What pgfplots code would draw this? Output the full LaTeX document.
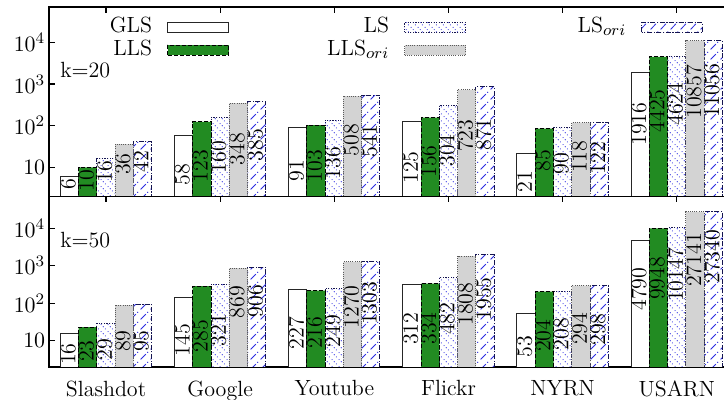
\documentclass[border=0pt]{standalone}
\usepackage{pgfplots}
\pgfplotsset{compat=1.18}
\usepackage{pgfplotstable}
\usetikzlibrary{patterns,patterns.meta}

\definecolor{llsgreen}{RGB}{34,139,34}
\definecolor{origray}{RGB}{211,211,211}
\definecolor{hatchblue}{RGB}{45,45,225}
\definecolor{edgenavy}{RGB}{20,20,80}

% dotted back-diagonal hatch
\pgfdeclarepattern{
  name=dotback,
  type=uncolored,
  bottom left={\pgfpoint{0pt}{0pt}},
  top right={\pgfpoint{3.6pt}{3.6pt}},
  tile size={\pgfpoint{3.6pt}{3.6pt}},
  code={
    \pgfpathcircle{\pgfpoint{0.6pt}{3.0pt}}{0.3pt}
    \pgfpathcircle{\pgfpoint{1.8pt}{1.8pt}}{0.3pt}
    \pgfpathcircle{\pgfpoint{3.0pt}{0.6pt}}{0.3pt}
    \pgfusepath{fill}
  }
}
% dash-dot forward-diagonal hatch
\pgfdeclarepattern{
  name=dashfwd,
  type=uncolored,
  bottom left={\pgfpoint{0pt}{0pt}},
  top right={\pgfpoint{5pt}{5pt}},
  tile size={\pgfpoint{5pt}{5pt}},
  code={
    \pgfsetlinewidth{0.45pt}
    \pgfpathmoveto{\pgfpoint{0.3pt}{0.3pt}}
    \pgfpathlineto{\pgfpoint{3.2pt}{3.2pt}}
    \pgfpathmoveto{\pgfpoint{4.0pt}{4.0pt}}
    \pgfpathlineto{\pgfpoint{4.4pt}{4.4pt}}
    \pgfusepath{stroke}
  }
}

% x: dataset index, y: value, dy: label centre below the bar top (pt)
% ---- k = 20 ----
\pgfplotstableread{
x y dy
0 6 -4
1 58 -19.5
2 91 -21.5
3 125 -23
4 21 -14
5 1916 -26
}\glsA
\pgfplotstableread{
x y dy
0 10 -6.5
1 123 -22
2 103 -20.5
3 156 -22
4 85 -16
5 4425 -27
}\llsA
\pgfplotstableread{
x y dy
0 16 -6.5
1 160 -20
2 136 -21.5
3 304 -22.5
4 90 -18
5 4624 -24
}\lsA
\pgfplotstableread{
x y dy
0 36 -10
1 348 -23
2 508 -22
3 723 -23
4 118 -17
5 10857 -25.5
}\llsoriA
\pgfplotstableread{
x y dy
0 42 -10
1 385 -22
2 541 -23
3 871 -24
4 122 -18
5 11056 -25
}\lsoriA
% ---- k = 50 ----
\pgfplotstableread{
x y dy
0 16 -10.5
1 145 -21.5
2 227 -21.5
3 312 -22
4 53 -16.5
5 4790 -24.5
}\glsB
\pgfplotstableread{
x y dy
0 23 -12
1 285 -25
2 216 -21
3 334 -22.5
4 204 -22
5 9948 -25
}\llsB
\pgfplotstableread{
x y dy
0 29 -13
1 321 -23
2 249 -21.5
3 482 -20.5
4 208 -21.5
5 10147 -23.5
}\lsB
\pgfplotstableread{
x y dy
0 89 -18
1 869 -17
2 1270 -22.5
3 1808 -24
4 294 -21.5
5 27141 -24
}\llsoriB
\pgfplotstableread{
x y dy
0 95 -18.5
1 906 -17
2 1303 -21
3 1955 -22
4 298 -22
5 27340 -22.5
}\lsoriB

\newcommand{\barrect}[1]{\draw[#1] (0pt,-2.5pt) rectangle (30.5pt,2.5pt);}
% label text as a 0x0 box whose centre is the reference point
\newcommand{\centred}[1]{\makebox[0pt]{\raisebox{-0.5\height}[0pt][0pt]{#1}}}

% one axis unit = 342.5pt/6; a bar (0.16 units) = 9.133pt
\pgfplotsset{
  barbase/.style={ybar, bar width=0.16, line width=0.5pt,
    legend image code/.code={\barrect{##1}}},
  gls/.style={barbase, bar shift=-0.32, draw=black!85, fill=white},
  lls/.style={barbase, bar shift=-0.16, draw=black, dash pattern=on 2pt off 1pt, fill=llsgreen},
  ls/.style={barbase, bar shift=0, draw=edgenavy, dash pattern=on 0.6pt off 0.7pt,
    preaction={fill=white}, pattern=dotback, pattern color=hatchblue},
  llsori/.style={barbase, bar shift=0.16, draw=black!65, dash pattern=on 0.5pt off 0.6pt, fill=origray},
  lsori/.style={barbase, bar shift=0.32, draw=edgenavy, dash pattern=on 2.5pt off 0.8pt on 0.6pt off 0.8pt,
    preaction={fill=white}, pattern=dashfwd, pattern color=hatchblue},
  lab/.style={nodes near coords={\centred{\pgfplotspointmeta}},
    point meta=explicit symbolic,
    visualization depends on={\thisrow{dy}\as\dy},
    every node near coord/.append style={xshift=#1, yshift=\dy pt, rotate=90,
      inner sep=0pt, text=black, solid}},
}

\begin{document}
\fontsize{11}{13.2}\selectfont
\begin{tikzpicture}
\path[use as bounding box, clip] (0,0) rectangle (362pt,200pt);

\begin{axis}[scale only axis, width=342.5pt, height=94.75pt,
    at={(24.45pt,101.75pt)}, anchor=south west,
    ymode=log, ymin=2, ymax=70000,
    xmin=-0.5, xmax=5.5, enlargelimits=false,
    xtick={0,...,5}, ytick={10,100,1000,10000},
    yticklabels={$10$,$10^2$,$10^3$,$10^4$},
    yminorticks=false, tick align=inside, major tick length=3pt,
    axis line style={line width=0.8pt, black},
    tick style={line width=0.6pt, black},
    yticklabel style={xshift=2pt},
    xticklabels={\mbox{},\mbox{},\mbox{},\mbox{},\mbox{},\mbox{}},
    legend columns=3, legend plot pos=right,
    legend style={draw=none, fill=none, at={(rel axis cs:0.048,0.947)}, anchor=north west,
      inner sep=0pt, row sep=1.5pt,
      nodes={inner sep=0pt, text height=7.5pt, text depth=2.5pt},
      /tikz/every odd column/.style={column sep=7.5pt},
      /tikz/every even column/.style={column sep=45pt}}]
\addplot[gls, lab=-18.27pt] table[x=x, y=y, meta=y] {\glsA};
\addlegendentry{\makebox[35pt][r]{GLS}}
\addplot[ls, lab=0pt] table[x=x, y=y, meta=y] {\lsA};
\addlegendentry{\makebox[35pt][r]{LS}}
\addplot[lsori, lab=18.27pt] table[x=x, y=y, meta=y] {\lsoriA};
\addlegendentry{\makebox[35pt][r]{LS$_{ori}$}}
\addplot[lls, lab=-9.13pt] table[x=x, y=y, meta=y] {\llsA};
\addlegendentry{\makebox[35pt][r]{LLS}}
\addplot[llsori, lab=9.13pt] table[x=x, y=y, meta=y] {\llsoriA};
\addlegendentry{\makebox[35pt][r]{LLS$_{ori}$}}
\node[anchor=west, inner sep=0pt] at (rel axis cs:0.016,0.667) {k$=$20};
\end{axis}

\begin{axis}[scale only axis, width=342.5pt, height=85.25pt,
    at={(24.45pt,16.5pt)}, anchor=south west,
    ymode=log, ymin=2, ymax=70000,
    xmin=-0.5, xmax=5.5, enlargelimits=false,
    xtick={0,...,5}, ytick={10,100,1000,10000},
    yticklabels={$10$,$10^2$,$10^3$,$10^4$},
    yminorticks=false, tick align=inside, major tick length=3pt,
    axis line style={line width=0.8pt, black},
    tick style={line width=0.6pt, black},
    yticklabel style={xshift=2pt},
    xticklabel style={yshift=-3pt},
    xticklabels={Slashdot,Google,Youtube,Flickr,NYRN,USARN}]
\addplot[gls, lab=-18.27pt] table[x=x, y=y, meta=y] {\glsB};
\addplot[ls, lab=0pt] table[x=x, y=y, meta=y] {\lsB};
\addplot[lsori, lab=18.27pt] table[x=x, y=y, meta=y] {\lsoriB};
\addplot[lls, lab=-9.13pt] table[x=x, y=y, meta=y] {\llsB};
\addplot[llsori, lab=9.13pt] table[x=x, y=y, meta=y] {\llsoriB};
\node[anchor=west, inner sep=0pt] at (rel axis cs:0.016,0.742) {k$=$50};
\end{axis}
\end{tikzpicture}
\end{document}
